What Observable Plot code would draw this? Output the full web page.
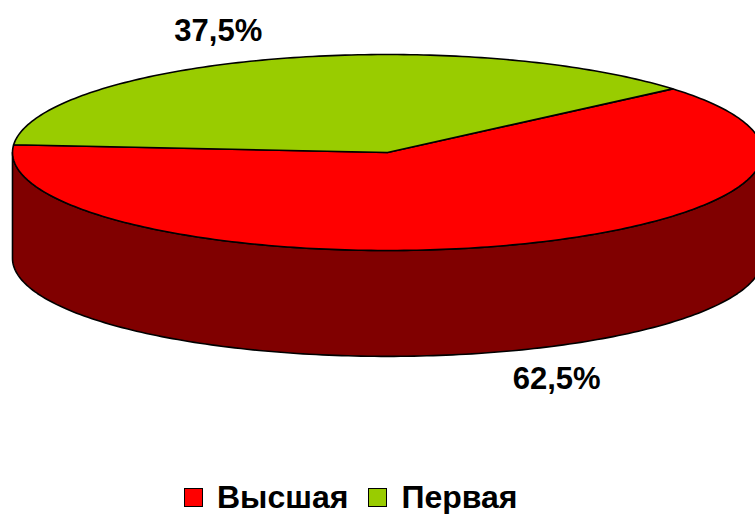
<!DOCTYPE html>
<html>
<head>
<meta charset="utf-8">
<script src="https://cdn.jsdelivr.net/npm/d3@7"></script>
<script src="https://cdn.jsdelivr.net/npm/@observablehq/plot@0.6"></script>
<style>
  html, body { margin: 0; padding: 0; background: #fff; overflow: hidden; }
  #chart { width: 755px; }
  .legend { display: flex; align-items: center; padding-left: 184px; height: 34px;
    font-family: "Liberation Sans", Arial, sans-serif; font-weight: bold; font-size: 32px; color: #000; }
  .legend .sw { width: 17px; height: 17px; border: 1px solid #000; margin-right: 14px; }
  .legend .item { display: flex; align-items: center; margin-right: 20px; }
</style>
</head>
<body>
<div id="chart"></div>
<script>
// ---- data ----
const categories = ["Высшая", "Первая"];
const values = [62.5, 37.5];
const labels = ["62,5%", "37,5%"];
const topColors = ["#FF0000", "#99CC00"];
const sideColors = ["#800000", "#4C6600"];

// ---- geometry / style ----
const startDeg = 40.5;   // first slice starts here, goes clockwise
const depth = 1.08;      // wall height, in units of the vertical radius
const total = d3.sum(values);
const rad = d => d * Math.PI / 180;

let acc = startDeg;
const slices = values.map((v, i) => {
  const span = v / total * 360;
  const s = { i, a0: acc - span, a1: acc, mid: acc - span / 2 };
  acc -= span;
  return s;
});

const topPolys = [];
const sidePolys = [];
slices.forEach(s => {
  const pts = [{x: 0, y: 0}];
  for (let a = s.a0; a < s.a1; a += 1) pts.push({x: Math.cos(rad(a)), y: Math.sin(rad(a))});
  pts.push({x: Math.cos(rad(s.a1)), y: Math.sin(rad(s.a1))});
  topPolys.push({i: s.i, pts});
  for (const off of [-360, 0, 360]) {
    const lo = Math.max(s.a0, 180 + off), hi = Math.min(s.a1, 360 + off);
    if (hi > lo) {
      const up = [];
      for (let a = lo; a < hi; a += 1) up.push(a);
      up.push(hi);
      const wall = up.map(a => ({x: Math.cos(rad(a)), y: Math.sin(rad(a))}));
      const bottom = up.slice().reverse().map(a => ({x: Math.cos(rad(a)), y: Math.sin(rad(a)) - depth}));
      sidePolys.push({i: s.i, pts: wall.concat(bottom)});
    }
  }
});

const labelData = slices.map(s => {
  const sy = Math.sin(rad(s.mid));
  return {
    text: labels[s.i],
    x: 1.46 * Math.cos(rad(s.mid)),
    y: 1.3 * sy - (sy < 0 ? depth : 0)
  };
});

const marks = [];
sidePolys.forEach(p => marks.push(Plot.line(p.pts, {x: "x", y: "y", curve: "linear-closed",
  fill: sideColors[p.i], stroke: "#000", strokeWidth: 1.6, strokeLinejoin: "round"})));
topPolys.forEach(p => marks.push(Plot.line(p.pts, {x: "x", y: "y", curve: "linear-closed",
  fill: topColors[p.i], stroke: "#000", strokeWidth: 1.6, strokeLinejoin: "round"})));
marks.push(Plot.text(labelData, {x: "x", y: "y", text: "text", fontSize: 31, fontWeight: "bold",
  fill: "#000", fontFamily: "Liberation Sans, Arial, sans-serif"}));

const plot = Plot.plot({
  width: 755,
  height: 480,
  margin: 0,
  x: {type: "linear", domain: [-1, 1], range: [12, 762], axis: null},
  y: {type: "linear", domain: [-1, 1], range: [250, 54], axis: null},
  style: {background: "#fff", fontFamily: "Liberation Sans, Arial, sans-serif"},
  marks
});
document.getElementById("chart").appendChild(plot);

const legend = document.createElement("div");
legend.className = "legend";
categories.forEach((c, i) => {
  const item = document.createElement("div");
  item.className = "item";
  const sw = document.createElement("div");
  sw.className = "sw";
  sw.style.background = topColors[i];
  const t = document.createElement("span");
  t.textContent = c;
  item.appendChild(sw); item.appendChild(t);
  legend.appendChild(item);
});
document.getElementById("chart").appendChild(legend);
</script>
</body>
</html>
